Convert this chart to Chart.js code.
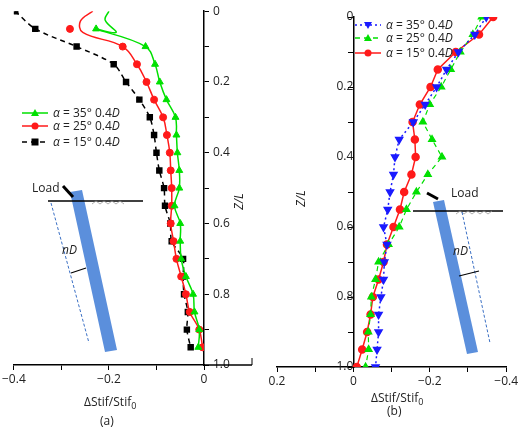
<!DOCTYPE html>
<html><head><meta charset="utf-8">
<script src="https://cdn.jsdelivr.net/npm/chart.js@4"></script>
<style>
body{margin:0;background:#fff;font-family:"Open Sans",sans-serif;}
#wrap{position:relative;width:520px;height:430px;}
canvas{position:absolute;left:0;top:0;}
.t{position:absolute;font-size:12px;color:#222;white-space:nowrap;}
svg{position:absolute;left:0;top:0;}
</style></head>
<body>
<div id="wrap">
<canvas id="c1" width="520" height="430"></canvas>
<canvas id="c2" width="520" height="430"></canvas>
<svg width="520" height="430">
  <!-- x axis of (a) continues past zero -->
  <line x1="204" y1="365" x2="252" y2="365" stroke="#000" stroke-width="1.5"/>
  <line x1="252" y1="365" x2="252" y2="358" stroke="#000" stroke-width="1"/>
  <!-- left schematic -->
  <polygon points="70,192 82,190 117,350 105,352" fill="#5b8fdc"/>
  <line x1="48" y1="201" x2="143" y2="201" stroke="#000" stroke-width="1.6"/>
  <path d="M92,204 l4,-3 l4,3 l4,-3 l4,3 l4,-3 l4,3 l4,-3 l4,3" fill="none" stroke="#999" stroke-width="0.8"/>
  <line x1="51" y1="203" x2="89" y2="343" stroke="#3a6fc4" stroke-dasharray="3,2"/>
  <line x1="71" y1="273" x2="86" y2="268" stroke="#000" stroke-width="1.2"/>
  <line x1="73" y1="197" x2="63" y2="186" stroke="#000" stroke-width="3"/>
  <!-- right schematic -->
  <polygon points="433,202 444,200 478,352 467,354" fill="#5b8fdc"/>
  <line x1="413" y1="211" x2="503" y2="211" stroke="#000" stroke-width="1.6"/>
  <path d="M456,214 l4,-3 l4,3 l4,-3 l4,3 l4,-3 l4,3 l4,-3 l4,3 l4,-3" fill="none" stroke="#999" stroke-width="0.8"/>
  <line x1="462" y1="212" x2="490" y2="343" stroke="#3a6fc4" stroke-dasharray="3,2"/>
  <line x1="459" y1="276" x2="479" y2="271" stroke="#000" stroke-width="1.2"/>
  <line x1="438" y1="199" x2="427" y2="193" stroke="#000" stroke-width="3"/>
  <g id="leg"></g>
</svg>
<div class="t" style="left:32px;top:179px">Load</div>
<div class="t" style="left:62px;top:241px;font-style:italic">nD</div>
<div class="t" style="left:451px;top:184px">Load</div>
<div class="t" style="left:453px;top:242px;font-style:italic">nD</div>
<div class="t" style="left:84px;top:393px">ΔStif/Stif<sub style="font-size:9px">0</sub></div>
<div class="t" style="left:100px;top:412px">(a)</div>
<div class="t" style="left:371px;top:389px">ΔStif/Stif<sub style="font-size:9px">0</sub></div>
<div class="t" style="left:387px;top:402px">(b)</div>
<div class="t" style="left:230px;top:193px;transform:rotate(-90deg);font-style:italic">Z/L</div>
<div class="t" style="left:292px;top:190px;transform:rotate(-90deg);font-style:italic">Z/L</div>
</div>
<script>
// left panel (a): depth Z/L and stiffness change
const aDepth = [0.05,0.10,0.15,0.20,0.25,0.30,0.35,0.40,0.45,0.50,0.55,0.60,0.65,0.70,0.75,0.80,0.85,0.90,0.95];
const a35 = [-0.227,-0.123,-0.103,-0.093,-0.079,-0.060,-0.058,-0.056,-0.052,-0.052,-0.062,-0.050,-0.050,-0.048,-0.038,-0.023,-0.020,-0.010,-0.012];
const a25 = [-0.282,-0.171,-0.141,-0.121,-0.105,-0.086,-0.078,-0.072,-0.070,-0.068,-0.068,-0.070,-0.064,-0.058,-0.048,-0.038,-0.030,-0.010,-0.003];
const a15Depth = [0,0.05,0.10,0.15,0.20,0.25,0.30,0.35,0.40,0.45,0.50,0.55,0.60,0.65,0.70,0.75,0.80,0.85,0.90,0.95];
const a15 = [-0.397,-0.355,-0.268,-0.190,-0.164,-0.136,-0.114,-0.105,-0.100,-0.094,-0.084,-0.082,-0.071,-0.068,-0.044,-0.044,-0.042,-0.034,-0.036,-0.028];
// fitted curve tops for 35 and 25 (line only)
const a35TopDepth = [0,0.025,0.06], a35Top = [-0.2,-0.208,-0.185];
const a25TopDepth = [0,0.028,0.06], a25Top = [-0.234,-0.26,-0.255];

// right panel (b)
const bDepth = [0,0.05,0.10,0.15,0.20,0.25,0.30,0.35,0.40,0.45,0.50,0.55,0.60,0.65,0.70,0.75,0.80,0.85,0.90,0.95,1.0];
const b35 = [-0.348,-0.318,-0.275,-0.244,-0.218,-0.188,-0.157,-0.120,-0.109,-0.105,-0.096,-0.090,-0.079,-0.088,-0.081,-0.079,-0.072,-0.066,-0.066,-0.062,-0.058];
const b25 = [-0.336,-0.313,-0.280,-0.255,-0.230,-0.200,-0.182,-0.206,-0.232,-0.195,-0.165,-0.139,-0.120,-0.092,-0.066,-0.058,-0.047,-0.045,-0.039,-0.040,-0.032];
const b15 = [-0.366,-0.329,-0.268,-0.221,-0.202,-0.174,-0.155,-0.161,-0.163,-0.152,-0.133,-0.122,-0.105,-0.088,-0.079,-0.066,-0.051,-0.045,-0.036,-0.023,-0.009];

const pts = (xs, ys) => xs.map((x, i) => ({x, y: ys[i]}));
const GREEN = '#00e000', RED = '#ff1a1a', BLACK = '#000', BLUE = '#1a1aff';
const tickFont = {family: 'Open Sans', size: 12};
const fmt = v => {
    const r = Math.round(v * 10);
    if (r % 2 !== 0) return '';
    if (r === 0) return '0';
    return (v < 0 ? '−' : '') + Math.abs(v).toFixed(1);
};

function axes(xmin, xmax, rev, yPos) {
    return {
        x: {type: 'linear', min: xmin, max: xmax, reverse: rev, position: 'bottom',
            afterFit: s => { s.height = 25; },
            ticks: {stepSize: 0.1, callback: fmt, font: tickFont, color: '#222', maxRotation: 0, autoSkip: false, padding: 2},
            grid: {drawOnChartArea: false, tickLength: 5, color: '#000'},
            border: {color: '#000', width: 1.5}},
        y: {type: 'linear', min: 0, max: 1, reverse: true, position: yPos,
            afterFit: s => { s.width = 30; },
            ticks: {stepSize: 0.1, callback: v => { const r = Math.round(v * 10); return r % 2 ? '' : (r === 0 ? '0' : (r === 10 ? '1.0' : v.toFixed(1))); },
                font: tickFont, color: '#222', autoSkip: false, padding: 4},
            grid: {drawOnChartArea: false, tickLength: 5, color: '#000'},
            border: {color: '#000', width: 1.5}}
    };
}
const baseOpts = (pad, sc) => ({
    responsive: false, animation: false,
    layout: {padding: pad},
    scales: sc,
    plugins: {legend: {display: false}, tooltip: {enabled: false}}
});

new Chart(document.getElementById('c1'), {
    type: 'scatter',
    data: {datasets: [
        {data: pts(a35Top.concat(a35), a35TopDepth.concat(aDepth)), showLine: true, tension: 0.4, pointRadius: 0, borderColor: GREEN, borderWidth: 1.5},
        {data: pts(a35, aDepth), pointStyle: 'triangle', pointRadius: 4, backgroundColor: GREEN, borderColor: GREEN},
        {data: pts(a25Top.concat(a25.slice(1)), a25TopDepth.concat(aDepth.slice(1))), showLine: true, tension: 0.4, pointRadius: 0, borderColor: RED, borderWidth: 1.5},
        {data: pts(a25, aDepth), pointStyle: 'circle', pointRadius: 3.5, backgroundColor: RED, borderColor: RED},
        {data: pts(a15, a15Depth), showLine: true, tension: 0.3, borderDash: [5, 4], pointStyle: 'rect', pointRadius: 3.5, backgroundColor: BLACK, borderColor: BLACK, borderWidth: 1.5}
    ]},
    options: baseOpts({left: 9, right: 520 - 204 - 30, top: 7, bottom: 40}, axes(-0.4, 0, false, 'right'))
});

new Chart(document.getElementById('c2'), {
    type: 'scatter',
    data: {datasets: [
        {data: pts(b35, bDepth), showLine: true, borderDash: [2, 3], pointStyle: 'triangle', rotation: 180, pointRadius: 4, backgroundColor: BLUE, borderColor: BLUE, borderWidth: 1.5},
        {data: pts(b25, bDepth), showLine: true, borderDash: [5, 4], pointStyle: 'triangle', pointRadius: 4, backgroundColor: GREEN, borderColor: GREEN, borderWidth: 1.2},
        {data: pts(b15, bDepth), showLine: true, pointStyle: 'circle', pointRadius: 3.5, backgroundColor: RED, borderColor: RED, borderWidth: 1.5}
    ]},
    options: baseOpts({left: 277, right: 12, top: 17, bottom: 38}, axes(-0.4, 0.2, true, {x: 0}))
});

// legends drawn as svg swatches + text
const legends = [
    {x: 22, y: 113, color: GREEN, dash: '', mark: 'tri', label: '35'},
    {x: 22, y: 126, color: RED, dash: '', mark: 'circ', label: '25'},
    {x: 22, y: 142, color: BLACK, dash: '5,4', mark: 'sq', label: '15'},
    {x: 355, y: 25, color: BLUE, dash: '2,3', mark: 'dtri', label: '35'},
    {x: 355, y: 38, color: GREEN, dash: '5,4', mark: 'tri', label: '25'},
    {x: 355, y: 53, color: RED, dash: '', mark: 'circ', label: '15'}
];
const g = document.getElementById('leg');
const wrap = document.getElementById('wrap');
legends.forEach(l => {
    const cx = l.x + 13;
    let m = '';
    if (l.mark === 'tri') m = `<polygon points="${cx-4},${l.y+3} ${cx+4},${l.y+3} ${cx},${l.y-4}" fill="${l.color}"/>`;
    if (l.mark === 'dtri') m = `<polygon points="${cx-4},${l.y-3} ${cx+4},${l.y-3} ${cx},${l.y+4}" fill="${l.color}"/>`;
    if (l.mark === 'circ') m = `<circle cx="${cx}" cy="${l.y}" r="3.5" fill="${l.color}"/>`;
    if (l.mark === 'sq') m = `<rect x="${cx-3.5}" y="${l.y-3.5}" width="7" height="7" fill="${l.color}"/>`;
    g.innerHTML += `<line x1="${l.x}" y1="${l.y}" x2="${l.x+26}" y2="${l.y}" stroke="${l.color}" stroke-width="1.5" stroke-dasharray="${l.dash}"/>` + m;
    const d = document.createElement('div');
    d.className = 't';
    d.style.left = (l.x + 31) + 'px';
    d.style.top = (l.y - 9) + 'px';
    d.innerHTML = `<i>α</i> = ${l.label}° 0.4<i>D</i>`;
    wrap.appendChild(d);
});
</script>
</body></html>
